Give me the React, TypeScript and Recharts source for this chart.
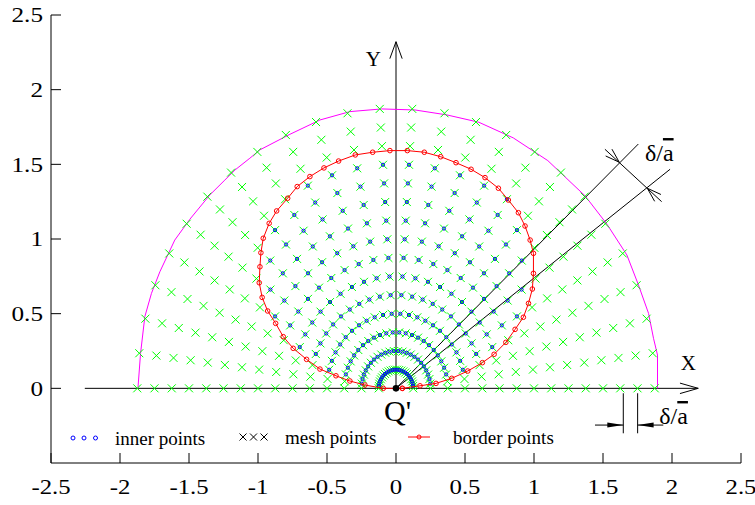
import React from 'react';
import { ScatterChart, Scatter, XAxis, YAxis, ReferenceLine, Legend } from 'recharts';

const FONT = '"Liberation Serif", "Times New Roman", serif';

const X_TICKS = [-2.5, -2, -1.5, -1, -0.5, 0, 0.5, 1, 1.5, 2, 2.5];
const Y_TICKS = [0, 0.5, 1, 1.5, 2, 2.5];

// Polar mesh: ray directions (degrees) and ring radii around Q'
const meshRayAngles = [
  0, 7.2, 14.4, 21.6, 28.8, 36, 43.2, 50.4, 57.6, 64.8, 72, 79.2, 86.4,
  93.6, 100.8, 108, 115.2, 122.4, 129.6, 136.8, 144, 151.2, 158.4, 165.6, 172.8, 180,
];
const meshRingRadii = [
  0.125, 0.25, 0.375, 0.5, 0.625, 0.75, 0.875, 1, 1.125, 1.25, 1.375, 1.5, 1.625, 1.75, 1.875,
];

// Border points (closed contour, counter-clockwise from the bottom)
const borderPoints: [number, number][] = [
  [0.046, 0.0], [0.174, 0.017], [0.29, 0.033], [0.404, 0.067], [0.52, 0.116],
  [0.626, 0.172], [0.711, 0.228], [0.796, 0.308], [0.863, 0.395], [0.923, 0.476],
  [0.96, 0.569], [0.988, 0.665], [0.996, 0.77], [0.996, 0.904], [0.972, 0.993],
  [0.935, 1.087], [0.887, 1.176], [0.814, 1.261], [0.742, 1.34], [0.645, 1.411],
  [0.544, 1.467], [0.435, 1.511], [0.324, 1.551], [0.205, 1.581], [0.082, 1.592],
  [-0.044, 1.592], [-0.169, 1.581], [-0.295, 1.563], [-0.416, 1.522], [-0.522, 1.476],
  [-0.624, 1.418], [-0.716, 1.351], [-0.785, 1.273], [-0.865, 1.188], [-0.919, 1.105],
  [-0.962, 1.005], [-0.979, 0.908], [-0.986, 0.814], [-0.991, 0.707], [-0.97, 0.609],
  [-0.93, 0.518], [-0.872, 0.435], [-0.817, 0.346], [-0.745, 0.268], [-0.648, 0.194],
  [-0.551, 0.129], [-0.435, 0.084], [-0.334, 0.049], [-0.225, 0.022], [-0.092, 0.0],
  [0.046, 0.0],
];

// Outer boundary of the mesh region
const outerBoundary: [number, number][] = [
  [-1.87, 0.0], [-1.851, 0.234], [-1.82, 0.48], [-1.772, 0.636], [-1.711, 0.781],
  [-1.603, 0.993], [-1.494, 1.132], [-1.349, 1.295], [-1.24, 1.395], [-1.167, 1.462],
  [-1.059, 1.541], [-0.986, 1.597], [-0.769, 1.701], [-0.551, 1.797], [-0.334, 1.853],
  [-0.104, 1.871], [0.138, 1.864], [0.368, 1.831], [0.6, 1.782], [0.85, 1.677],
  [1.1, 1.525], [1.371, 1.288], [1.528, 1.1], [1.673, 0.893], [1.757, 0.692],
  [1.83, 0.502], [1.866, 0.335], [1.895, 0.223], [1.895, 0.0],
];

// Construction lines (data coordinates)
const xAxisArrow = { from: [-2.255, 0], to: [2.19, 0] };
const yAxisArrow = { from: [0, 0], to: [0, 2.321] };
const rayUpper = { from: [0, 0], to: [1.756, 1.636] };
const rayLower = { from: [0, 0], to: [1.986, 1.467] };
const dimDiagonal = { from: [1.514, 1.601], to: [1.925, 1.25] };
const dimArrowUpper: [number, number] = [1.618, 1.514];
const dimArrowLower: [number, number] = [1.821, 1.34];
const dimTickA = { from: [1.647, -0.033], to: [1.647, -0.301] };
const dimTickB = { from: [1.751, -0.033], to: [1.751, -0.301] };
const dimLeadA = { from: [1.442, -0.246], to: [1.647, -0.246] };
const dimLeadB = { from: [1.751, -0.246], to: [1.937, -0.246] };

const toPts = (arr: [number, number][]) => arr.map(([x, y]) => ({ x, y }));

const meshPoints = meshRayAngles.flatMap((deg) =>
  meshRingRadii.map((r) => ({
    x: r * Math.cos((deg * Math.PI) / 180),
    y: r * Math.sin((deg * Math.PI) / 180),
  }))
);

function insideBorder(px: number, py: number) {
  let inside = false;
  for (let i = 0, j = borderPoints.length - 1; i < borderPoints.length; j = i++) {
    const [xi, yi] = borderPoints[i];
    const [xj, yj] = borderPoints[j];
    if (yi > py !== yj > py && px < ((xj - xi) * (py - yi)) / (yj - yi) + xi) inside = !inside;
  }
  return inside;
}

const innerPoints = meshPoints.filter((p) => insideBorder(p.x, p.y));

const GREEN = '#00ff00';
const BLUE = '#0000ff';
const RED = '#ff0000';
const MAGENTA = '#ff00ff';

const CrossShape = (props: any) => {
  const { cx, cy } = props;
  const s = 4;
  return (
    <path
      d={`M${cx - s},${cy - s}L${cx + s},${cy + s}M${cx - s},${cy + s}L${cx + s},${cy - s}`}
      stroke={GREEN}
      strokeWidth={1}
      fill="none"
    />
  );
};
const BlueDot = (props: any) => (
  <circle cx={props.cx} cy={props.cy} r={1.6} fill="none" stroke={BLUE} strokeWidth={1} />
);
const RedRing = (props: any) => (
  <circle cx={props.cx} cy={props.cy} r={2.3} fill="none" stroke={RED} strokeWidth={1} />
);
const Nothing = () => <g />;
const OriginDot = (props: any) => <circle cx={props.cx} cy={props.cy} r={3.3} fill="#000" />;

const chevron = (angleDeg: number, len: number, spreadDeg: number) => (props: any) => {
  const { cx, cy } = props;
  const back = ((angleDeg + 180) * Math.PI) / 180;
  const s = (spreadDeg * Math.PI) / 180;
  const x1 = cx + len * Math.cos(back - s);
  const y1 = cy + len * Math.sin(back - s);
  const x2 = cx + len * Math.cos(back + s);
  const y2 = cy + len * Math.sin(back + s);
  return <path d={`M${x1},${y1}L${cx},${cy}L${x2},${y2}`} fill="none" stroke="#000" strokeWidth={1} />;
};

const solidArrow = (angleDeg: number, len: number, half: number) => (props: any) => {
  const { cx, cy } = props;
  const a = (angleDeg * Math.PI) / 180;
  const bx = cx - len * Math.cos(a);
  const by = cy - len * Math.sin(a);
  const nx = -Math.sin(a) * half;
  const ny = Math.cos(a) * half;
  return <polygon points={`${cx},${cy} ${bx + nx},${by + ny} ${bx - nx},${by - ny}`} fill="#000" />;
};

const textMark = (text: React.ReactNode, size: number, anchor: 'start' | 'middle' | 'end') => (props: any) => (
  <text x={props.cx} y={props.cy} fontFamily={FONT} fontSize={size} textAnchor={anchor} fill="#000">
    {text}
  </text>
);

const deltaOverA = (
  <>
    δ/<tspan style={{ textDecoration: 'overline' }}>a</tspan>
  </>
);

const seg = (s: { from: number[]; to: number[] }) => [
  { x: s.from[0], y: s.from[1] },
  { x: s.to[0], y: s.to[1] },
];

// Tick labels in a slightly wide serif face
const BottomTick = (props: any) => {
  const { x, y, payload } = props;
  return (
    <g transform={`translate(${x},${y}) scale(1.18,1)`}>
      <text x={0} y={0} dy="0.71em" textAnchor="middle" fontFamily={FONT} fontSize={21} fill="#000">
        {payload.value}
      </text>
    </g>
  );
};
const LeftTick = (props: any) => {
  const { x, y, payload } = props;
  return (
    <g transform={`translate(${x},${y}) scale(1.2,1)`}>
      <text x={0} y={0} dy="0.355em" textAnchor="end" fontFamily={FONT} fontSize={21} fill="#000">
        {payload.value}
      </text>
    </g>
  );
};

const LegendBox = () => (
  <svg width={520} height={30} style={{ display: 'block', overflow: 'visible' }}>
    {[13, 24, 35.5].map((x) => (
      <circle key={x} cx={x} cy={13} r={2} fill="none" stroke={BLUE} strokeWidth={1} />
    ))}
    <text x={55} y={20} fontFamily={FONT} fontSize={19} fill="#000">inner points</text>
    {[183, 193.5, 204].map((x) => (
      <path key={x} d={`M${x - 3.5},${12 - 3.5}L${x + 3.5},${12 + 3.5}M${x - 3.5},${12 + 3.5}L${x + 3.5},${12 - 3.5}`} stroke="#000" strokeWidth={1} />
    ))}
    <text x={225} y={19} fontFamily={FONT} fontSize={19} fill="#000">mesh points</text>
    <line x1={348} y1={12} x2={370} y2={12} stroke={RED} strokeWidth={1} />
    <circle cx={359} cy={12} r={2} fill="none" stroke={RED} strokeWidth={1} />
    <text x={393} y={19} fontFamily={FONT} fontSize={19} fill="#000">border points</text>
  </svg>
);

export default function App() {
  return (
    <div style={{ position: 'absolute', left: 0, top: 0, background: '#fff' }}>
      <ScatterChart width={755} height={505} margin={{ top: 15, right: 14, bottom: 0, left: 0 }}>
        <XAxis
          type="number"
          dataKey="x"
          domain={[-2.5, 2.5]}
          ticks={X_TICKS}
          interval={0}
          height={42}
          tickSize={-10}
          tickMargin={26}
          tick={BottomTick}
          axisLine={{ stroke: '#000' }}
          tickLine={{ stroke: '#000' }}
        />
        <XAxis
          xAxisId="top"
          orientation="top"
          type="number"
          domain={[-2.5, 2.5]}
          ticks={X_TICKS}
          interval={0}
          height={0}
          tickSize={-10}
          tick={false}
          axisLine={{ stroke: '#000' }}
          tickLine={{ stroke: '#000' }}
        />
        <YAxis
          type="number"
          dataKey="y"
          domain={[-0.5, 2.5]}
          ticks={Y_TICKS}
          interval={0}
          width={51}
          tickSize={-10}
          tickMargin={18}
          tick={LeftTick}
          axisLine={{ stroke: '#000' }}
          tickLine={{ stroke: '#000' }}
        />
        <YAxis
          yAxisId="right"
          orientation="right"
          type="number"
          domain={[-0.5, 2.5]}
          ticks={Y_TICKS}
          interval={0}
          width={0}
          tickSize={-10}
          tick={false}
          axisLine={{ stroke: '#000' }}
          tickLine={{ stroke: '#000' }}
        />

        <Scatter name="outer" data={toPts(outerBoundary)} line={{ stroke: MAGENTA, strokeWidth: 1 }} shape={Nothing} isAnimationActive={false} />
        <Scatter name="mesh points" data={meshPoints} shape={CrossShape} isAnimationActive={false} />
        <Scatter name="inner points" data={innerPoints} shape={BlueDot} isAnimationActive={false} />
        <Scatter name="border points" data={toPts(borderPoints)} line={{ stroke: RED, strokeWidth: 1 }} shape={RedRing} isAnimationActive={false} />

        {[xAxisArrow, yAxisArrow, rayUpper, rayLower, dimDiagonal, dimTickA, dimTickB, dimLeadA, dimLeadB].map((s, i) => (
          <ReferenceLine key={i} segment={seg(s)} stroke="#000" strokeWidth={1} ifOverflow="visible" />
        ))}

        <Scatter data={[{ x: xAxisArrow.to[0], y: 0 }]} shape={chevron(0, 19, 16)} isAnimationActive={false} />
        <Scatter data={[{ x: 0, y: yAxisArrow.to[1] }]} shape={chevron(-90, 18, 20)} isAnimationActive={false} />
        <Scatter data={[{ x: dimArrowUpper[0], y: dimArrowUpper[1] }]} shape={chevron(42.7, 15, 18)} isAnimationActive={false} />
        <Scatter data={[{ x: dimArrowLower[0], y: dimArrowLower[1] }]} shape={chevron(222.7, 15, 18)} isAnimationActive={false} />
        <Scatter data={[{ x: dimLeadA.to[0], y: dimLeadA.to[1] }]} shape={solidArrow(0, 16, 2.5)} isAnimationActive={false} />
        <Scatter data={[{ x: dimLeadB.from[0], y: dimLeadB.from[1] }]} shape={solidArrow(180, 16, 2.5)} isAnimationActive={false} />
        <Scatter data={[{ x: 0, y: 0 }]} shape={OriginDot} isAnimationActive={false} />

        <Scatter data={[{ x: -0.164, y: 2.159 }]} shape={textMark('Y', 21, 'middle')} isAnimationActive={false} />
        <Scatter data={[{ x: 2.118, y: 0.123 }]} shape={textMark('X', 21, 'middle')} isAnimationActive={false} />
        <Scatter data={[{ x: -0.087, y: -0.219 }]} shape={textMark("Q'", 30, 'start')} isAnimationActive={false} />
        <Scatter data={[{ x: 1.804, y: 1.522 }]} shape={textMark(deltaOverA, 24, 'start')} isAnimationActive={false} />
        <Scatter data={[{ x: 1.908, y: -0.239 }]} shape={textMark(deltaOverA, 24, 'start')} isAnimationActive={false} />

        <Legend
          layout="horizontal"
          verticalAlign="middle"
          align="center"
          wrapperStyle={{ left: 60, top: 425, width: 520, height: 30 }}
          content={() => <LegendBox />}
        />
      </ScatterChart>
    </div>
  );
}
